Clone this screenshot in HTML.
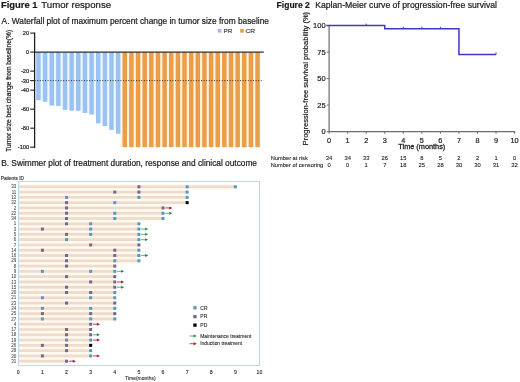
<!DOCTYPE html>
<html><head><meta charset="utf-8"><style>
html,body{margin:0;padding:0;background:#fff;}
body{width:520px;height:382px;overflow:hidden;}
svg{display:block;font-family:"Liberation Sans", sans-serif;will-change:transform;}
</style></head><body>
<svg width="520" height="382" viewBox="0 0 520 382">
<text x="1.0" y="7.9" font-size="9.4" font-weight="bold" textLength="36.6" lengthAdjust="spacingAndGlyphs" fill="#1a1a1a" stroke="#1a1a1a" stroke-width="0.2">Figure 1</text>
<text x="41.3" y="7.9" font-size="9.6" textLength="69.8" lengthAdjust="spacingAndGlyphs" fill="#1a1a1a" stroke="#1a1a1a" stroke-width="0.2">Tumor response</text>
<text x="1.6" y="23.8" font-size="8.35" textLength="267.3" lengthAdjust="spacingAndGlyphs" fill="#1a1a1a" stroke="#1a1a1a" stroke-width="0.2">A. Waterfall plot of maximum percent change in tumor size from baseline</text>
<text x="276.6" y="8.0" font-size="8.2" font-weight="bold" textLength="33.2" lengthAdjust="spacingAndGlyphs" fill="#1a1a1a" stroke="#1a1a1a" stroke-width="0.2">Figure 2</text>
<text x="315.2" y="8.0" font-size="8.2" textLength="181.8" lengthAdjust="spacingAndGlyphs" fill="#1a1a1a" stroke="#1a1a1a" stroke-width="0.2">Kaplan-Meier curve of progression-free survival</text>
<text x="1.2" y="165.7" font-size="8.2" textLength="255.8" lengthAdjust="spacingAndGlyphs" fill="#1a1a1a" stroke="#1a1a1a" stroke-width="0.2">B. Swimmer plot of treatment duration, response and clinical outcome</text>
<rect x="120.32" y="52.1" width="139.64" height="95.10" fill="#fff5e4"/>
<rect x="40.70" y="52.1" width="2.14" height="48.10" fill="#eef6ff"/>
<rect x="47.34" y="52.1" width="2.14" height="49.70" fill="#eef6ff"/>
<rect x="53.98" y="52.1" width="2.14" height="53.50" fill="#eef6ff"/>
<rect x="60.62" y="52.1" width="2.14" height="53.80" fill="#eef6ff"/>
<rect x="67.26" y="52.1" width="2.14" height="57.80" fill="#eef6ff"/>
<rect x="73.90" y="52.1" width="2.14" height="58.60" fill="#eef6ff"/>
<rect x="80.54" y="52.1" width="2.14" height="58.70" fill="#eef6ff"/>
<rect x="87.18" y="52.1" width="2.14" height="60.90" fill="#eef6ff"/>
<rect x="93.82" y="52.1" width="2.14" height="62.50" fill="#eef6ff"/>
<rect x="100.46" y="52.1" width="2.14" height="71.30" fill="#eef6ff"/>
<rect x="107.10" y="52.1" width="2.14" height="74.00" fill="#eef6ff"/>
<rect x="113.74" y="52.1" width="2.14" height="77.80" fill="#eef6ff"/>
<rect x="36.20" y="52.1" width="4.5" height="48.10" fill="#9ac2f3"/>
<rect x="42.84" y="52.1" width="4.5" height="49.70" fill="#9ac2f3"/>
<rect x="49.48" y="52.1" width="4.5" height="53.50" fill="#9ac2f3"/>
<rect x="56.12" y="52.1" width="4.5" height="53.80" fill="#9ac2f3"/>
<rect x="62.76" y="52.1" width="4.5" height="57.80" fill="#9ac2f3"/>
<rect x="69.40" y="52.1" width="4.5" height="58.60" fill="#9ac2f3"/>
<rect x="76.04" y="52.1" width="4.5" height="58.70" fill="#9ac2f3"/>
<rect x="82.68" y="52.1" width="4.5" height="60.90" fill="#9ac2f3"/>
<rect x="89.32" y="52.1" width="4.5" height="62.50" fill="#9ac2f3"/>
<rect x="95.96" y="52.1" width="4.5" height="71.30" fill="#9ac2f3"/>
<rect x="102.60" y="52.1" width="4.5" height="74.00" fill="#9ac2f3"/>
<rect x="109.24" y="52.1" width="4.5" height="77.80" fill="#9ac2f3"/>
<rect x="115.88" y="52.1" width="4.5" height="81.70" fill="#9ac2f3"/>
<rect x="122.52" y="52.1" width="4.5" height="95.10" fill="#ec9d48"/>
<rect x="129.16" y="52.1" width="4.5" height="95.10" fill="#ec9d48"/>
<rect x="135.80" y="52.1" width="4.5" height="95.10" fill="#ec9d48"/>
<rect x="142.44" y="52.1" width="4.5" height="95.10" fill="#ec9d48"/>
<rect x="149.08" y="52.1" width="4.5" height="95.10" fill="#ec9d48"/>
<rect x="155.72" y="52.1" width="4.5" height="95.10" fill="#ec9d48"/>
<rect x="162.36" y="52.1" width="4.5" height="95.10" fill="#ec9d48"/>
<rect x="169.00" y="52.1" width="4.5" height="95.10" fill="#ec9d48"/>
<rect x="175.64" y="52.1" width="4.5" height="95.10" fill="#ec9d48"/>
<rect x="182.28" y="52.1" width="4.5" height="95.10" fill="#ec9d48"/>
<rect x="188.92" y="52.1" width="4.5" height="95.10" fill="#ec9d48"/>
<rect x="195.56" y="52.1" width="4.5" height="95.10" fill="#ec9d48"/>
<rect x="202.20" y="52.1" width="4.5" height="95.10" fill="#ec9d48"/>
<rect x="208.84" y="52.1" width="4.5" height="95.10" fill="#ec9d48"/>
<rect x="215.48" y="52.1" width="4.5" height="95.10" fill="#ec9d48"/>
<rect x="222.12" y="52.1" width="4.5" height="95.10" fill="#ec9d48"/>
<rect x="228.76" y="52.1" width="4.5" height="95.10" fill="#ec9d48"/>
<rect x="235.40" y="52.1" width="4.5" height="95.10" fill="#ec9d48"/>
<rect x="242.04" y="52.1" width="4.5" height="95.10" fill="#ec9d48"/>
<rect x="248.68" y="52.1" width="4.5" height="95.10" fill="#ec9d48"/>
<rect x="255.32" y="52.1" width="4.5" height="95.10" fill="#ec9d48"/>
<line x1="34.6" y1="52.1" x2="263.8" y2="52.1" stroke="#2b2f36" stroke-width="1.4"/>
<line x1="34.6" y1="80.63" x2="263.5" y2="80.63" stroke="#222" stroke-width="0.9" stroke-dasharray="1 1.6"/>
<line x1="34.6" y1="32.5" x2="34.6" y2="147.9" stroke="#222" stroke-width="1.3"/>
<line x1="30.2" y1="33.08" x2="34.6" y2="33.08" stroke="#222" stroke-width="1.1"/>
<text x="29.2" y="35.08" font-size="5.7" text-anchor="end" fill="#222" stroke="#222" stroke-width="0.2">20</text>
<line x1="30.2" y1="52.10" x2="34.6" y2="52.10" stroke="#222" stroke-width="1.1"/>
<text x="29.2" y="54.1" font-size="5.7" text-anchor="end" fill="#222" stroke="#222" stroke-width="0.2">0</text>
<line x1="30.2" y1="71.12" x2="34.6" y2="71.12" stroke="#222" stroke-width="1.1"/>
<text x="29.2" y="73.12" font-size="5.7" text-anchor="end" fill="#222" stroke="#222" stroke-width="0.2">-20</text>
<line x1="30.2" y1="80.63" x2="34.6" y2="80.63" stroke="#222" stroke-width="1.1"/>
<text x="29.2" y="82.63" font-size="5.7" text-anchor="end" fill="#222" stroke="#222" stroke-width="0.2">-30</text>
<line x1="30.2" y1="90.14" x2="34.6" y2="90.14" stroke="#222" stroke-width="1.1"/>
<text x="29.2" y="92.14" font-size="5.7" text-anchor="end" fill="#222" stroke="#222" stroke-width="0.2">-40</text>
<line x1="30.2" y1="109.16" x2="34.6" y2="109.16" stroke="#222" stroke-width="1.1"/>
<text x="29.2" y="111.16" font-size="5.7" text-anchor="end" fill="#222" stroke="#222" stroke-width="0.2">-60</text>
<line x1="30.2" y1="128.18" x2="34.6" y2="128.18" stroke="#222" stroke-width="1.1"/>
<text x="29.2" y="130.18" font-size="5.7" text-anchor="end" fill="#222" stroke="#222" stroke-width="0.2">-80</text>
<line x1="30.2" y1="147.20" x2="34.6" y2="147.20" stroke="#222" stroke-width="1.1"/>
<text x="29.2" y="149.2" font-size="5.7" text-anchor="end" fill="#222" stroke="#222" stroke-width="0.2">-100</text>
<text transform="translate(11.3,151.7) rotate(-90)" font-size="6.6" fill="#222" stroke="#222" stroke-width="0.2" textLength="121.8" lengthAdjust="spacingAndGlyphs">Tumor size best change from baseline(%)</text>
<rect x="217.8" y="29.0" width="3.6" height="3.6" fill="#a6b8e8"/>
<text x="223.5" y="33.0" font-size="6.0" textLength="8.8" lengthAdjust="spacingAndGlyphs" fill="#444" stroke="#444" stroke-width="0.2">PR</text>
<rect x="240.2" y="29.0" width="3.6" height="3.6" fill="#e89c48"/>
<text x="245.5" y="33.0" font-size="6.0" textLength="9.6" lengthAdjust="spacingAndGlyphs" fill="#444" stroke="#444" stroke-width="0.2">CR</text>
<line x1="329.1" y1="25.3" x2="329.1" y2="131.6" stroke="#6c6c6c" stroke-width="1.2"/>
<line x1="329.1" y1="131.6" x2="515.2" y2="131.6" stroke="#6c6c6c" stroke-width="1.2"/>
<line x1="326.70000000000005" y1="131.60" x2="329.1" y2="131.60" stroke="#6c6c6c" stroke-width="1"/>
<text x="325.6" y="134.25" font-size="7.5" text-anchor="end" fill="#222" stroke="#222" stroke-width="0.2">0</text>
<line x1="326.70000000000005" y1="105.10" x2="329.1" y2="105.10" stroke="#6c6c6c" stroke-width="1"/>
<text x="325.6" y="107.75" font-size="7.5" text-anchor="end" fill="#222" stroke="#222" stroke-width="0.2">25</text>
<line x1="326.70000000000005" y1="78.60" x2="329.1" y2="78.60" stroke="#6c6c6c" stroke-width="1"/>
<text x="325.6" y="81.25" font-size="7.5" text-anchor="end" fill="#222" stroke="#222" stroke-width="0.2">50</text>
<line x1="326.70000000000005" y1="52.10" x2="329.1" y2="52.10" stroke="#6c6c6c" stroke-width="1"/>
<text x="325.6" y="54.74999999999999" font-size="7.5" text-anchor="end" fill="#222" stroke="#222" stroke-width="0.2">75</text>
<line x1="326.70000000000005" y1="25.60" x2="329.1" y2="25.60" stroke="#6c6c6c" stroke-width="1"/>
<text x="325.6" y="28.249999999999993" font-size="7.5" text-anchor="end" fill="#222" stroke="#222" stroke-width="0.2">100</text>
<line x1="329.10" y1="131.6" x2="329.10" y2="133.79999999999998" stroke="#6c6c6c" stroke-width="1"/>
<text x="329.1" y="142.8" font-size="7.3" text-anchor="middle" fill="#222" stroke="#222" stroke-width="0.2">0</text>
<line x1="347.65" y1="131.6" x2="347.65" y2="133.79999999999998" stroke="#6c6c6c" stroke-width="1"/>
<text x="347.65000000000003" y="142.8" font-size="7.3" text-anchor="middle" fill="#222" stroke="#222" stroke-width="0.2">1</text>
<line x1="366.20" y1="131.6" x2="366.20" y2="133.79999999999998" stroke="#6c6c6c" stroke-width="1"/>
<text x="366.20000000000005" y="142.8" font-size="7.3" text-anchor="middle" fill="#222" stroke="#222" stroke-width="0.2">2</text>
<line x1="384.75" y1="131.6" x2="384.75" y2="133.79999999999998" stroke="#6c6c6c" stroke-width="1"/>
<text x="384.75" y="142.8" font-size="7.3" text-anchor="middle" fill="#222" stroke="#222" stroke-width="0.2">3</text>
<line x1="403.30" y1="131.6" x2="403.30" y2="133.79999999999998" stroke="#6c6c6c" stroke-width="1"/>
<text x="403.3" y="142.8" font-size="7.3" text-anchor="middle" fill="#222" stroke="#222" stroke-width="0.2">4</text>
<line x1="421.85" y1="131.6" x2="421.85" y2="133.79999999999998" stroke="#6c6c6c" stroke-width="1"/>
<text x="421.85" y="142.8" font-size="7.3" text-anchor="middle" fill="#222" stroke="#222" stroke-width="0.2">5</text>
<line x1="440.40" y1="131.6" x2="440.40" y2="133.79999999999998" stroke="#6c6c6c" stroke-width="1"/>
<text x="440.40000000000003" y="142.8" font-size="7.3" text-anchor="middle" fill="#222" stroke="#222" stroke-width="0.2">6</text>
<line x1="458.95" y1="131.6" x2="458.95" y2="133.79999999999998" stroke="#6c6c6c" stroke-width="1"/>
<text x="458.95000000000005" y="142.8" font-size="7.3" text-anchor="middle" fill="#222" stroke="#222" stroke-width="0.2">7</text>
<line x1="477.50" y1="131.6" x2="477.50" y2="133.79999999999998" stroke="#6c6c6c" stroke-width="1"/>
<text x="477.5" y="142.8" font-size="7.3" text-anchor="middle" fill="#222" stroke="#222" stroke-width="0.2">8</text>
<line x1="496.05" y1="131.6" x2="496.05" y2="133.79999999999998" stroke="#6c6c6c" stroke-width="1"/>
<text x="496.05000000000007" y="142.8" font-size="7.3" text-anchor="middle" fill="#222" stroke="#222" stroke-width="0.2">9</text>
<line x1="514.60" y1="131.6" x2="514.60" y2="133.79999999999998" stroke="#6c6c6c" stroke-width="1"/>
<text x="514.6" y="142.8" font-size="7.3" text-anchor="middle" fill="#222" stroke="#222" stroke-width="0.2">10</text>
<text x="398.3" y="149.3" font-size="7.2" textLength="47.0" lengthAdjust="spacingAndGlyphs" fill="#222" stroke="#222" stroke-width="0.28">Time (months)</text>
<text transform="translate(307.6,145.4) rotate(-90)" font-size="6.6" fill="#222" stroke="#222" stroke-width="0.2" textLength="133.5" lengthAdjust="spacingAndGlyphs">Progression-free survival probability (%)</text>
<polyline points="326.5,25.60 384.75,25.60 384.75,28.72 458.95,28.72 458.95,54.44 496.05,54.44" fill="none" stroke="#4236c4" stroke-width="1.5"/>
<line x1="366.20" y1="23.60" x2="366.20" y2="25.60" stroke="#4236c4" stroke-width="1.0"/>
<line x1="403.30" y1="26.72" x2="403.30" y2="28.72" stroke="#4236c4" stroke-width="1.0"/>
<line x1="421.85" y1="26.72" x2="421.85" y2="28.72" stroke="#4236c4" stroke-width="1.0"/>
<line x1="440.40" y1="26.72" x2="440.40" y2="28.72" stroke="#4236c4" stroke-width="1.0"/>
<line x1="496.05" y1="52.44" x2="496.05" y2="54.44" stroke="#4236c4" stroke-width="1.0"/>
<text x="270.8" y="160.2" font-size="5.6" textLength="37.0" lengthAdjust="spacingAndGlyphs" fill="#222" stroke="#222" stroke-width="0.1">Number at risk</text>
<text x="270.8" y="167.4" font-size="5.6" textLength="52.4" lengthAdjust="spacingAndGlyphs" fill="#222" stroke="#222" stroke-width="0.1">Number of censoring</text>
<text x="329.1" y="160.2" font-size="5.8" text-anchor="middle" fill="#222" stroke="#222" stroke-width="0.1">34</text>
<text x="329.1" y="167.4" font-size="5.8" text-anchor="middle" fill="#222" stroke="#222" stroke-width="0.1">0</text>
<text x="347.65000000000003" y="160.2" font-size="5.8" text-anchor="middle" fill="#222" stroke="#222" stroke-width="0.1">34</text>
<text x="347.65000000000003" y="167.4" font-size="5.8" text-anchor="middle" fill="#222" stroke="#222" stroke-width="0.1">0</text>
<text x="366.20000000000005" y="160.2" font-size="5.8" text-anchor="middle" fill="#222" stroke="#222" stroke-width="0.1">33</text>
<text x="366.20000000000005" y="167.4" font-size="5.8" text-anchor="middle" fill="#222" stroke="#222" stroke-width="0.1">1</text>
<text x="384.75" y="160.2" font-size="5.8" text-anchor="middle" fill="#222" stroke="#222" stroke-width="0.1">26</text>
<text x="384.75" y="167.4" font-size="5.8" text-anchor="middle" fill="#222" stroke="#222" stroke-width="0.1">7</text>
<text x="403.3" y="160.2" font-size="5.8" text-anchor="middle" fill="#222" stroke="#222" stroke-width="0.1">15</text>
<text x="403.3" y="167.4" font-size="5.8" text-anchor="middle" fill="#222" stroke="#222" stroke-width="0.1">18</text>
<text x="421.85" y="160.2" font-size="5.8" text-anchor="middle" fill="#222" stroke="#222" stroke-width="0.1">8</text>
<text x="421.85" y="167.4" font-size="5.8" text-anchor="middle" fill="#222" stroke="#222" stroke-width="0.1">25</text>
<text x="440.40000000000003" y="160.2" font-size="5.8" text-anchor="middle" fill="#222" stroke="#222" stroke-width="0.1">5</text>
<text x="440.40000000000003" y="167.4" font-size="5.8" text-anchor="middle" fill="#222" stroke="#222" stroke-width="0.1">28</text>
<text x="458.95000000000005" y="160.2" font-size="5.8" text-anchor="middle" fill="#222" stroke="#222" stroke-width="0.1">2</text>
<text x="458.95000000000005" y="167.4" font-size="5.8" text-anchor="middle" fill="#222" stroke="#222" stroke-width="0.1">30</text>
<text x="477.5" y="160.2" font-size="5.8" text-anchor="middle" fill="#222" stroke="#222" stroke-width="0.1">2</text>
<text x="477.5" y="167.4" font-size="5.8" text-anchor="middle" fill="#222" stroke="#222" stroke-width="0.1">30</text>
<text x="496.05000000000007" y="160.2" font-size="5.8" text-anchor="middle" fill="#222" stroke="#222" stroke-width="0.1">1</text>
<text x="496.05000000000007" y="167.4" font-size="5.8" text-anchor="middle" fill="#222" stroke="#222" stroke-width="0.1">31</text>
<text x="514.6" y="160.2" font-size="5.8" text-anchor="middle" fill="#222" stroke="#222" stroke-width="0.1">0</text>
<text x="514.6" y="167.4" font-size="5.8" text-anchor="middle" fill="#222" stroke="#222" stroke-width="0.1">32</text>
<rect x="18.3" y="184.16" width="217.08" height="5.29" fill="#fff9f0"/>
<rect x="18.3" y="185.45" width="217.08" height="2.7" fill="#efdbc9"/>
<rect x="137.40" y="185.30" width="3.0" height="3.0" fill="#74678e"/>
<rect x="185.64" y="185.30" width="3.0" height="3.0" fill="#4e9cc6"/>
<rect x="233.88" y="185.30" width="3.0" height="3.0" fill="#4e9cc6"/>
<text x="16.3" y="188.4" font-size="4.5" text-anchor="end" fill="#444" stroke="#444" stroke-width="0.05">33</text>
<rect x="18.3" y="189.45" width="168.84" height="5.29" fill="#fff9f0"/>
<rect x="18.3" y="190.74" width="168.84" height="2.7" fill="#efdbc9"/>
<rect x="113.28" y="190.59" width="3.0" height="3.0" fill="#74678e"/>
<rect x="137.40" y="190.59" width="3.0" height="3.0" fill="#74678e"/>
<rect x="185.64" y="190.59" width="3.0" height="3.0" fill="#4e9cc6"/>
<text x="16.3" y="193.685" font-size="4.5" text-anchor="end" fill="#444" stroke="#444" stroke-width="0.05">11</text>
<rect x="18.3" y="194.73" width="168.84" height="5.29" fill="#fff9f0"/>
<rect x="18.3" y="196.02" width="168.84" height="2.7" fill="#efdbc9"/>
<rect x="65.04" y="195.87" width="3.0" height="3.0" fill="#4e9cc6"/>
<rect x="137.40" y="195.87" width="3.0" height="3.0" fill="#4e9cc6"/>
<rect x="185.64" y="195.87" width="3.0" height="3.0" fill="#4e9cc6"/>
<text x="16.3" y="198.97" font-size="4.5" text-anchor="end" fill="#444" stroke="#444" stroke-width="0.05">12</text>
<rect x="18.3" y="200.02" width="168.84" height="5.29" fill="#fff9f0"/>
<rect x="18.3" y="201.31" width="168.84" height="2.7" fill="#efdbc9"/>
<rect x="65.04" y="201.16" width="3.0" height="3.0" fill="#74678e"/>
<rect x="113.28" y="201.16" width="3.0" height="3.0" fill="#4e9cc6"/>
<rect x="185.64" y="201.16" width="3.0" height="3.0" fill="#000"/>
<text x="16.3" y="204.255" font-size="4.5" text-anchor="end" fill="#444" stroke="#444" stroke-width="0.05">32</text>
<rect x="18.3" y="205.30" width="144.72" height="5.29" fill="#fff9f0"/>
<rect x="18.3" y="206.59" width="144.72" height="2.7" fill="#efdbc9"/>
<rect x="65.04" y="206.44" width="3.0" height="3.0" fill="#74678e"/>
<rect x="161.52" y="206.44" width="3.0" height="3.0" fill="#74678e"/>
<line x1="165.22" y1="207.94" x2="170.22" y2="207.94" stroke="#cc5060" stroke-width="1.1"/><polygon points="169.22,206.49 172.42,207.94 169.22,209.39" fill="#a3182c"/>
<text x="16.3" y="209.54" font-size="4.5" text-anchor="end" fill="#444" stroke="#444" stroke-width="0.05">2</text>
<rect x="18.3" y="210.59" width="144.72" height="5.29" fill="#fff9f0"/>
<rect x="18.3" y="211.88" width="144.72" height="2.7" fill="#efdbc9"/>
<rect x="65.04" y="211.73" width="3.0" height="3.0" fill="#74678e"/>
<rect x="113.28" y="211.73" width="3.0" height="3.0" fill="#4e9cc6"/>
<rect x="161.52" y="211.73" width="3.0" height="3.0" fill="#4e9cc6"/>
<line x1="165.22" y1="213.23" x2="170.22" y2="213.23" stroke="#6cbb88" stroke-width="1.1"/><polygon points="169.22,211.78 172.42,213.23 169.22,214.68" fill="#238a4a"/>
<text x="16.3" y="214.82500000000002" font-size="4.5" text-anchor="end" fill="#444" stroke="#444" stroke-width="0.05">22</text>
<rect x="18.3" y="215.87" width="144.72" height="5.29" fill="#fff9f0"/>
<rect x="18.3" y="217.16" width="144.72" height="2.7" fill="#efdbc9"/>
<rect x="65.04" y="217.01" width="3.0" height="3.0" fill="#74678e"/>
<rect x="113.28" y="217.01" width="3.0" height="3.0" fill="#4e9cc6"/>
<rect x="161.52" y="217.01" width="3.0" height="3.0" fill="#4e9cc6"/>
<text x="16.3" y="220.11" font-size="4.5" text-anchor="end" fill="#444" stroke="#444" stroke-width="0.05">34</text>
<rect x="18.3" y="221.16" width="120.60" height="5.29" fill="#fff9f0"/>
<rect x="18.3" y="222.45" width="120.60" height="2.7" fill="#efdbc9"/>
<rect x="65.04" y="222.30" width="3.0" height="3.0" fill="#74678e"/>
<rect x="89.16" y="222.30" width="3.0" height="3.0" fill="#4e9cc6"/>
<rect x="137.40" y="222.30" width="3.0" height="3.0" fill="#4e9cc6"/>
<text x="16.3" y="225.395" font-size="4.5" text-anchor="end" fill="#444" stroke="#444" stroke-width="0.05">1</text>
<rect x="18.3" y="226.44" width="120.60" height="5.29" fill="#fff9f0"/>
<rect x="18.3" y="227.73" width="120.60" height="2.7" fill="#efdbc9"/>
<rect x="40.92" y="227.58" width="3.0" height="3.0" fill="#74678e"/>
<rect x="89.16" y="227.58" width="3.0" height="3.0" fill="#4e9cc6"/>
<rect x="137.40" y="227.58" width="3.0" height="3.0" fill="#4e9cc6"/>
<line x1="141.10" y1="229.08" x2="146.10" y2="229.08" stroke="#6cbb88" stroke-width="1.1"/><polygon points="145.10,227.63 148.30,229.08 145.10,230.53" fill="#238a4a"/>
<text x="16.3" y="230.68" font-size="4.5" text-anchor="end" fill="#444" stroke="#444" stroke-width="0.05">3</text>
<rect x="18.3" y="231.73" width="120.60" height="5.29" fill="#fff9f0"/>
<rect x="18.3" y="233.02" width="120.60" height="2.7" fill="#efdbc9"/>
<rect x="65.04" y="232.87" width="3.0" height="3.0" fill="#74678e"/>
<rect x="89.16" y="232.87" width="3.0" height="3.0" fill="#4e9cc6"/>
<rect x="137.40" y="232.87" width="3.0" height="3.0" fill="#4e9cc6"/>
<line x1="141.10" y1="234.37" x2="146.10" y2="234.37" stroke="#6cbb88" stroke-width="1.1"/><polygon points="145.10,232.92 148.30,234.37 145.10,235.81" fill="#238a4a"/>
<text x="16.3" y="235.965" font-size="4.5" text-anchor="end" fill="#444" stroke="#444" stroke-width="0.05">5</text>
<rect x="18.3" y="237.01" width="120.60" height="5.29" fill="#fff9f0"/>
<rect x="18.3" y="238.30" width="120.60" height="2.7" fill="#efdbc9"/>
<rect x="65.04" y="238.15" width="3.0" height="3.0" fill="#4e9cc6"/>
<rect x="137.40" y="238.15" width="3.0" height="3.0" fill="#4e9cc6"/>
<line x1="141.10" y1="239.65" x2="146.10" y2="239.65" stroke="#6cbb88" stroke-width="1.1"/><polygon points="145.10,238.20 148.30,239.65 145.10,241.10" fill="#238a4a"/>
<text x="16.3" y="241.25" font-size="4.5" text-anchor="end" fill="#444" stroke="#444" stroke-width="0.05">6</text>
<rect x="18.3" y="242.30" width="120.60" height="5.29" fill="#fff9f0"/>
<rect x="18.3" y="243.59" width="120.60" height="2.7" fill="#efdbc9"/>
<rect x="89.16" y="243.44" width="3.0" height="3.0" fill="#74678e"/>
<rect x="137.40" y="243.44" width="3.0" height="3.0" fill="#74678e"/>
<text x="16.3" y="246.535" font-size="4.5" text-anchor="end" fill="#444" stroke="#444" stroke-width="0.05">7</text>
<rect x="18.3" y="247.58" width="120.60" height="5.29" fill="#fff9f0"/>
<rect x="18.3" y="248.87" width="120.60" height="2.7" fill="#efdbc9"/>
<rect x="40.92" y="248.72" width="3.0" height="3.0" fill="#74678e"/>
<rect x="113.28" y="248.72" width="3.0" height="3.0" fill="#74678e"/>
<rect x="137.40" y="248.72" width="3.0" height="3.0" fill="#4e9cc6"/>
<text x="16.3" y="251.82000000000002" font-size="4.5" text-anchor="end" fill="#444" stroke="#444" stroke-width="0.05">14</text>
<rect x="18.3" y="252.87" width="120.60" height="5.29" fill="#fff9f0"/>
<rect x="18.3" y="254.16" width="120.60" height="2.7" fill="#efdbc9"/>
<rect x="65.04" y="254.00" width="3.0" height="3.0" fill="#74678e"/>
<rect x="113.28" y="254.00" width="3.0" height="3.0" fill="#74678e"/>
<rect x="137.40" y="254.00" width="3.0" height="3.0" fill="#4e9cc6"/>
<line x1="141.10" y1="255.50" x2="146.10" y2="255.50" stroke="#6cbb88" stroke-width="1.1"/><polygon points="145.10,254.06 148.30,255.50 145.10,256.95" fill="#238a4a"/>
<text x="16.3" y="257.105" font-size="4.5" text-anchor="end" fill="#444" stroke="#444" stroke-width="0.05">16</text>
<rect x="18.3" y="258.15" width="120.60" height="5.29" fill="#fff9f0"/>
<rect x="18.3" y="259.44" width="120.60" height="2.7" fill="#efdbc9"/>
<rect x="65.04" y="259.29" width="3.0" height="3.0" fill="#74678e"/>
<rect x="113.28" y="259.29" width="3.0" height="3.0" fill="#4e9cc6"/>
<rect x="137.40" y="259.29" width="3.0" height="3.0" fill="#4e9cc6"/>
<text x="16.3" y="262.39000000000004" font-size="4.5" text-anchor="end" fill="#444" stroke="#444" stroke-width="0.05">29</text>
<rect x="18.3" y="263.44" width="96.48" height="5.29" fill="#fff9f0"/>
<rect x="18.3" y="264.73" width="96.48" height="2.7" fill="#efdbc9"/>
<rect x="65.04" y="264.58" width="3.0" height="3.0" fill="#74678e"/>
<rect x="113.28" y="264.58" width="3.0" height="3.0" fill="#74678e"/>
<text x="16.3" y="267.67500000000007" font-size="4.5" text-anchor="end" fill="#444" stroke="#444" stroke-width="0.05">8</text>
<rect x="18.3" y="268.72" width="96.48" height="5.29" fill="#fff9f0"/>
<rect x="18.3" y="270.01" width="96.48" height="2.7" fill="#efdbc9"/>
<rect x="40.92" y="269.86" width="3.0" height="3.0" fill="#4e9cc6"/>
<rect x="89.16" y="269.86" width="3.0" height="3.0" fill="#4e9cc6"/>
<rect x="113.28" y="269.86" width="3.0" height="3.0" fill="#4e9cc6"/>
<line x1="116.98" y1="271.36" x2="121.98" y2="271.36" stroke="#6cbb88" stroke-width="1.1"/><polygon points="120.98,269.91 124.18,271.36 120.98,272.81" fill="#238a4a"/>
<text x="16.3" y="272.96000000000004" font-size="4.5" text-anchor="end" fill="#444" stroke="#444" stroke-width="0.05">9</text>
<rect x="18.3" y="274.00" width="96.48" height="5.29" fill="#fff9f0"/>
<rect x="18.3" y="275.29" width="96.48" height="2.7" fill="#efdbc9"/>
<rect x="65.04" y="275.14" width="3.0" height="3.0" fill="#74678e"/>
<rect x="113.28" y="275.14" width="3.0" height="3.0" fill="#74678e"/>
<text x="16.3" y="278.245" font-size="4.5" text-anchor="end" fill="#444" stroke="#444" stroke-width="0.05">10</text>
<rect x="18.3" y="279.29" width="96.48" height="5.29" fill="#fff9f0"/>
<rect x="18.3" y="280.58" width="96.48" height="2.7" fill="#efdbc9"/>
<rect x="89.16" y="280.43" width="3.0" height="3.0" fill="#74678e"/>
<rect x="113.28" y="280.43" width="3.0" height="3.0" fill="#74678e"/>
<line x1="116.98" y1="281.93" x2="121.98" y2="281.93" stroke="#cc5060" stroke-width="1.1"/><polygon points="120.98,280.48 124.18,281.93 120.98,283.38" fill="#a3182c"/>
<text x="16.3" y="283.53000000000003" font-size="4.5" text-anchor="end" fill="#444" stroke="#444" stroke-width="0.05">13</text>
<rect x="18.3" y="284.58" width="96.48" height="5.29" fill="#fff9f0"/>
<rect x="18.3" y="285.87" width="96.48" height="2.7" fill="#efdbc9"/>
<rect x="65.04" y="285.72" width="3.0" height="3.0" fill="#74678e"/>
<rect x="113.28" y="285.72" width="3.0" height="3.0" fill="#74678e"/>
<line x1="116.98" y1="287.22" x2="121.98" y2="287.22" stroke="#6cbb88" stroke-width="1.1"/><polygon points="120.98,285.77 124.18,287.22 120.98,288.67" fill="#238a4a"/>
<text x="16.3" y="288.81500000000005" font-size="4.5" text-anchor="end" fill="#444" stroke="#444" stroke-width="0.05">15</text>
<rect x="18.3" y="289.86" width="96.48" height="5.29" fill="#fff9f0"/>
<rect x="18.3" y="291.15" width="96.48" height="2.7" fill="#efdbc9"/>
<rect x="65.04" y="291.00" width="3.0" height="3.0" fill="#74678e"/>
<rect x="89.16" y="291.00" width="3.0" height="3.0" fill="#74678e"/>
<rect x="113.28" y="291.00" width="3.0" height="3.0" fill="#4e9cc6"/>
<text x="16.3" y="294.1" font-size="4.5" text-anchor="end" fill="#444" stroke="#444" stroke-width="0.05">20</text>
<rect x="18.3" y="295.15" width="96.48" height="5.29" fill="#fff9f0"/>
<rect x="18.3" y="296.44" width="96.48" height="2.7" fill="#efdbc9"/>
<rect x="40.92" y="296.29" width="3.0" height="3.0" fill="#4e9cc6"/>
<rect x="89.16" y="296.29" width="3.0" height="3.0" fill="#4e9cc6"/>
<rect x="113.28" y="296.29" width="3.0" height="3.0" fill="#4e9cc6"/>
<text x="16.3" y="299.38500000000005" font-size="4.5" text-anchor="end" fill="#444" stroke="#444" stroke-width="0.05">21</text>
<rect x="18.3" y="300.43" width="96.48" height="5.29" fill="#fff9f0"/>
<rect x="18.3" y="301.72" width="96.48" height="2.7" fill="#efdbc9"/>
<rect x="65.04" y="301.57" width="3.0" height="3.0" fill="#74678e"/>
<rect x="113.28" y="301.57" width="3.0" height="3.0" fill="#74678e"/>
<text x="16.3" y="304.6700000000001" font-size="4.5" text-anchor="end" fill="#444" stroke="#444" stroke-width="0.05">23</text>
<rect x="18.3" y="305.72" width="96.48" height="5.29" fill="#fff9f0"/>
<rect x="18.3" y="307.00" width="96.48" height="2.7" fill="#efdbc9"/>
<rect x="40.92" y="306.86" width="3.0" height="3.0" fill="#4e9cc6"/>
<rect x="89.16" y="306.86" width="3.0" height="3.0" fill="#4e9cc6"/>
<rect x="113.28" y="306.86" width="3.0" height="3.0" fill="#4e9cc6"/>
<text x="16.3" y="309.95500000000004" font-size="4.5" text-anchor="end" fill="#444" stroke="#444" stroke-width="0.05">24</text>
<rect x="18.3" y="311.00" width="96.48" height="5.29" fill="#fff9f0"/>
<rect x="18.3" y="312.29" width="96.48" height="2.7" fill="#efdbc9"/>
<rect x="40.92" y="312.14" width="3.0" height="3.0" fill="#74678e"/>
<rect x="89.16" y="312.14" width="3.0" height="3.0" fill="#74678e"/>
<rect x="113.28" y="312.14" width="3.0" height="3.0" fill="#74678e"/>
<text x="16.3" y="315.24" font-size="4.5" text-anchor="end" fill="#444" stroke="#444" stroke-width="0.05">25</text>
<rect x="18.3" y="316.29" width="96.48" height="5.29" fill="#fff9f0"/>
<rect x="18.3" y="317.57" width="96.48" height="2.7" fill="#efdbc9"/>
<rect x="40.92" y="317.43" width="3.0" height="3.0" fill="#4e9cc6"/>
<rect x="89.16" y="317.43" width="3.0" height="3.0" fill="#4e9cc6"/>
<rect x="113.28" y="317.43" width="3.0" height="3.0" fill="#4e9cc6"/>
<text x="16.3" y="320.52500000000003" font-size="4.5" text-anchor="end" fill="#444" stroke="#444" stroke-width="0.05">27</text>
<rect x="18.3" y="321.57" width="72.36" height="5.29" fill="#fff9f0"/>
<rect x="18.3" y="322.86" width="72.36" height="2.7" fill="#efdbc9"/>
<rect x="89.16" y="322.71" width="3.0" height="3.0" fill="#74678e"/>
<line x1="92.86" y1="324.21" x2="97.86" y2="324.21" stroke="#cc5060" stroke-width="1.1"/><polygon points="96.86,322.76 100.06,324.21 96.86,325.66" fill="#a3182c"/>
<text x="16.3" y="325.81000000000006" font-size="4.5" text-anchor="end" fill="#444" stroke="#444" stroke-width="0.05">4</text>
<rect x="18.3" y="326.86" width="72.36" height="5.29" fill="#fff9f0"/>
<rect x="18.3" y="328.14" width="72.36" height="2.7" fill="#efdbc9"/>
<rect x="65.04" y="328.00" width="3.0" height="3.0" fill="#74678e"/>
<rect x="89.16" y="328.00" width="3.0" height="3.0" fill="#74678e"/>
<text x="16.3" y="331.095" font-size="4.5" text-anchor="end" fill="#444" stroke="#444" stroke-width="0.05">17</text>
<rect x="18.3" y="332.14" width="72.36" height="5.29" fill="#fff9f0"/>
<rect x="18.3" y="333.43" width="72.36" height="2.7" fill="#efdbc9"/>
<rect x="65.04" y="333.28" width="3.0" height="3.0" fill="#74678e"/>
<rect x="89.16" y="333.28" width="3.0" height="3.0" fill="#74678e"/>
<line x1="92.86" y1="334.78" x2="97.86" y2="334.78" stroke="#6cbb88" stroke-width="1.1"/><polygon points="96.86,333.33 100.06,334.78 96.86,336.23" fill="#238a4a"/>
<text x="16.3" y="336.38000000000005" font-size="4.5" text-anchor="end" fill="#444" stroke="#444" stroke-width="0.05">18</text>
<rect x="18.3" y="337.43" width="72.36" height="5.29" fill="#fff9f0"/>
<rect x="18.3" y="338.72" width="72.36" height="2.7" fill="#efdbc9"/>
<rect x="65.04" y="338.57" width="3.0" height="3.0" fill="#4e9cc6"/>
<rect x="89.16" y="338.57" width="3.0" height="3.0" fill="#4e9cc6"/>
<line x1="92.86" y1="340.07" x2="97.86" y2="340.07" stroke="#cc5060" stroke-width="1.1"/><polygon points="96.86,338.62 100.06,340.07 96.86,341.52" fill="#a3182c"/>
<text x="16.3" y="341.6650000000001" font-size="4.5" text-anchor="end" fill="#444" stroke="#444" stroke-width="0.05">19</text>
<rect x="18.3" y="342.71" width="72.36" height="5.29" fill="#fff9f0"/>
<rect x="18.3" y="344.00" width="72.36" height="2.7" fill="#efdbc9"/>
<rect x="40.92" y="343.85" width="3.0" height="3.0" fill="#74678e"/>
<rect x="65.04" y="343.85" width="3.0" height="3.0" fill="#74678e"/>
<rect x="89.16" y="343.85" width="3.0" height="3.0" fill="#000"/>
<text x="16.3" y="346.95000000000005" font-size="4.5" text-anchor="end" fill="#444" stroke="#444" stroke-width="0.05">26</text>
<rect x="18.3" y="348.00" width="72.36" height="5.29" fill="#fff9f0"/>
<rect x="18.3" y="349.28" width="72.36" height="2.7" fill="#efdbc9"/>
<rect x="65.04" y="349.13" width="3.0" height="3.0" fill="#74678e"/>
<rect x="89.16" y="349.13" width="3.0" height="3.0" fill="#4e9cc6"/>
<text x="16.3" y="352.235" font-size="4.5" text-anchor="end" fill="#444" stroke="#444" stroke-width="0.05">28</text>
<rect x="18.3" y="353.28" width="72.36" height="5.29" fill="#fff9f0"/>
<rect x="18.3" y="354.57" width="72.36" height="2.7" fill="#efdbc9"/>
<rect x="40.92" y="354.42" width="3.0" height="3.0" fill="#74678e"/>
<rect x="89.16" y="354.42" width="3.0" height="3.0" fill="#4e9cc6"/>
<line x1="92.86" y1="355.92" x2="97.86" y2="355.92" stroke="#cc5060" stroke-width="1.1"/><polygon points="96.86,354.47 100.06,355.92 96.86,357.37" fill="#a3182c"/>
<text x="16.3" y="357.52000000000004" font-size="4.5" text-anchor="end" fill="#444" stroke="#444" stroke-width="0.05">30</text>
<rect x="18.3" y="358.57" width="48.24" height="5.29" fill="#fff9f0"/>
<rect x="18.3" y="359.86" width="48.24" height="2.7" fill="#efdbc9"/>
<rect x="65.04" y="359.71" width="3.0" height="3.0" fill="#74678e"/>
<line x1="68.74" y1="361.21" x2="73.74" y2="361.21" stroke="#cc5060" stroke-width="1.1"/><polygon points="72.74,359.76 75.94,361.21 72.74,362.66" fill="#a3182c"/>
<text x="16.3" y="362.80500000000006" font-size="4.5" text-anchor="end" fill="#444" stroke="#444" stroke-width="0.05">31</text>
<rect x="18.5" y="181.5" width="241" height="184" fill="none" stroke="#c3d6e6" stroke-width="1"/>
<text x="0.8" y="179.6" font-size="4.8" textLength="23.2" lengthAdjust="spacingAndGlyphs" fill="#2a2a2a" stroke="#2a2a2a" stroke-width="0.12">Patients ID</text>
<text x="18.3" y="374.0" font-size="5.2" text-anchor="middle" fill="#222" stroke="#222" stroke-width="0.1">0</text>
<text x="42.42" y="374.0" font-size="5.2" text-anchor="middle" fill="#222" stroke="#222" stroke-width="0.1">1</text>
<text x="66.54" y="374.0" font-size="5.2" text-anchor="middle" fill="#222" stroke="#222" stroke-width="0.1">2</text>
<text x="90.66" y="374.0" font-size="5.2" text-anchor="middle" fill="#222" stroke="#222" stroke-width="0.1">3</text>
<text x="114.78" y="374.0" font-size="5.2" text-anchor="middle" fill="#222" stroke="#222" stroke-width="0.1">4</text>
<text x="138.9" y="374.0" font-size="5.2" text-anchor="middle" fill="#222" stroke="#222" stroke-width="0.1">5</text>
<text x="163.02" y="374.0" font-size="5.2" text-anchor="middle" fill="#222" stroke="#222" stroke-width="0.1">6</text>
<text x="187.14000000000001" y="374.0" font-size="5.2" text-anchor="middle" fill="#222" stroke="#222" stroke-width="0.1">7</text>
<text x="211.26000000000002" y="374.0" font-size="5.2" text-anchor="middle" fill="#222" stroke="#222" stroke-width="0.1">8</text>
<text x="235.38000000000002" y="374.0" font-size="5.2" text-anchor="middle" fill="#222" stroke="#222" stroke-width="0.1">9</text>
<text x="259.5" y="374.0" font-size="5.2" text-anchor="middle" fill="#222" stroke="#222" stroke-width="0.1">10</text>
<text x="125.0" y="380.0" font-size="5.0" textLength="30.6" lengthAdjust="spacingAndGlyphs" fill="#222" stroke="#222" stroke-width="0.08">Time(months)</text>
<rect x="193.3" y="306.10" width="3.3" height="3.3" fill="#4e9cc6"/>
<text x="200.3" y="309.5" font-size="5.0" fill="#222" stroke="#222" stroke-width="0.08">CR</text>
<rect x="193.3" y="315.00" width="3.3" height="3.3" fill="#74678e"/>
<text x="200.3" y="318.40000000000003" font-size="5.0" fill="#222" stroke="#222" stroke-width="0.08">PR</text>
<rect x="193.3" y="323.50" width="3.3" height="3.3" fill="#000"/>
<text x="200.3" y="326.90000000000003" font-size="5.0" fill="#222" stroke="#222" stroke-width="0.08">PD</text>
<line x1="189.60" y1="336.00" x2="194.60" y2="336.00" stroke="#6cbb88" stroke-width="1.1"/><polygon points="193.60,334.55 196.80,336.00 193.60,337.45" fill="#238a4a"/>
<text x="200.2" y="337.5" font-size="5.0" textLength="51.2" lengthAdjust="spacingAndGlyphs" fill="#222" stroke="#222" stroke-width="0.08">Maintenance treatment</text>
<line x1="189.60" y1="343.70" x2="194.60" y2="343.70" stroke="#cc5060" stroke-width="1.1"/><polygon points="193.60,342.25 196.80,343.70 193.60,345.15" fill="#a3182c"/>
<text x="200.2" y="345.2" font-size="5.0" textLength="42.0" lengthAdjust="spacingAndGlyphs" fill="#222" stroke="#222" stroke-width="0.08">Induction treatment</text>
</svg>
</body></html>
